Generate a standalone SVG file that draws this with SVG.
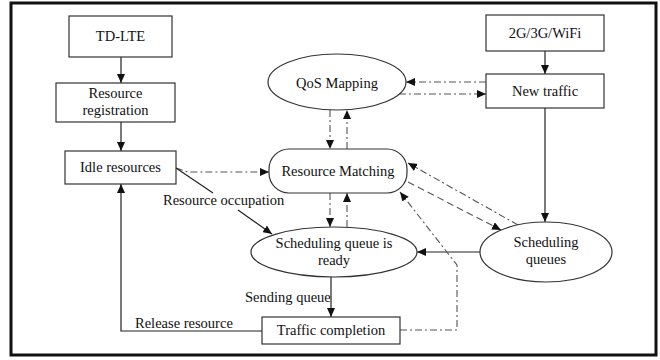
<svg xmlns="http://www.w3.org/2000/svg" width="660" height="360" viewBox="0 0 660 360">
<style>
  text { font-family: "Liberation Serif", "Times New Roman", serif; font-size: 14.5px; fill: #111; }
  .c { text-anchor: middle; }
  .box { fill: #fff; stroke: #333; stroke-width: 1.2; }
  .solid { fill: none; stroke: #222; stroke-width: 1.2; }
  .dd { fill: none; stroke: #555; stroke-width: 1.1; stroke-dasharray: 7 3 2 3; }
  .ds { fill: none; stroke: #555; stroke-width: 1.1; stroke-dasharray: 7 4; }
</style>
<defs>
  <marker id="ah" markerUnits="userSpaceOnUse" markerWidth="9" markerHeight="8" refX="9" refY="4" orient="auto">
    <path d="M0,0 L9,4 L0,8 z" fill="#111"/>
  </marker>
</defs>
<rect x="0" y="0" width="660" height="360" fill="#fff"/>
<rect x="11" y="3" width="645" height="352" fill="none" stroke="#111" stroke-width="3"/>

<g id="connectors">
  <path class="solid" d="M121,57 L121,83" marker-end="url(#ah)"/>
  <path class="solid" d="M121,122 L121,151" marker-end="url(#ah)"/>
  <path class="solid" d="M545,51 L545,74" marker-end="url(#ah)"/>
  <path class="dd" d="M486,82 L406,82" marker-end="url(#ah)"/>
  <path class="dd" d="M399,94 L486,94" marker-end="url(#ah)"/>
  <path class="dd" d="M330,110 L330,149" marker-end="url(#ah)"/>
  <path class="dd" d="M347,149 L347,110" marker-end="url(#ah)"/>
  <path class="dd" d="M330,193 L330,227" marker-end="url(#ah)"/>
  <path class="dd" d="M347,227 L347,193" marker-end="url(#ah)"/>
  <path class="dd" d="M176,168 L188,172 L269,172" marker-end="url(#ah)"/>
  <path class="solid" d="M176,168 L213,193"/>
  <path class="solid" d="M238,210 L272,234" marker-end="url(#ah)"/>
  <path class="solid" d="M545,108 L545,222" marker-end="url(#ah)"/>
  <path class="solid" d="M480,252 L417,252" marker-end="url(#ah)"/>
  <path class="dd" d="M518,225 L408,163" marker-end="url(#ah)"/>
  <path class="ds" d="M408,182 L501,230" marker-end="url(#ah)"/>
  <path class="dd" d="M400,330 L457,330 L457,265 L400,192" marker-end="url(#ah)"/>
  <path class="solid" d="M331,277 L331,317" marker-end="url(#ah)"/>
  <path class="solid" d="M262,331 L121,331 L121,184" marker-end="url(#ah)"/>
  <text x="163" y="205">Resource occupation</text>
  <text x="245" y="302">Sending queue</text>
  <text x="135" y="328">Release resource</text>
</g>

<g id="td-lte">
  <rect class="box" x="69" y="16" width="103" height="41"/>
  <text class="c" x="120.5" y="41">TD-LTE</text>
</g>
<g id="resource-registration">
  <rect class="box" x="56" y="83" width="119" height="39"/>
  <text class="c" x="115.5" y="98">Resource</text>
  <text class="c" x="115.5" y="115">registration</text>
</g>
<g id="idle-resources">
  <rect class="box" x="65" y="151" width="111" height="33"/>
  <text class="c" x="120.5" y="172">Idle resources</text>
</g>
<g id="wifi">
  <rect class="box" x="486" y="15" width="118" height="36"/>
  <text class="c" x="545" y="38">2G/3G/WiFi</text>
</g>
<g id="new-traffic">
  <rect class="box" x="486" y="74" width="118" height="34"/>
  <text class="c" x="545" y="96">New traffic</text>
</g>
<g id="qos-mapping">
  <ellipse class="box" cx="337" cy="82" rx="69" ry="28"/>
  <text class="c" x="337" y="88">QoS Mapping</text>
</g>
<g id="resource-matching">
  <rect class="box" x="269" y="149" width="138" height="44" rx="20" ry="20"/>
  <text class="c" x="338" y="176">Resource Matching</text>
</g>
<g id="scheduling-queue-ready">
  <ellipse class="box" cx="334" cy="252" rx="83" ry="25"/>
  <text class="c" x="334" y="248">Scheduling queue is</text>
  <text class="c" x="334" y="265">ready</text>
</g>
<g id="scheduling-queues">
  <ellipse class="box" cx="546" cy="252" rx="66" ry="30"/>
  <text class="c" x="546" y="247">Scheduling</text>
  <text class="c" x="546" y="264">queues</text>
</g>
<g id="traffic-completion">
  <rect class="box" x="262" y="317" width="138" height="27"/>
  <text class="c" x="331" y="335">Traffic completion</text>
</g>
</svg>
